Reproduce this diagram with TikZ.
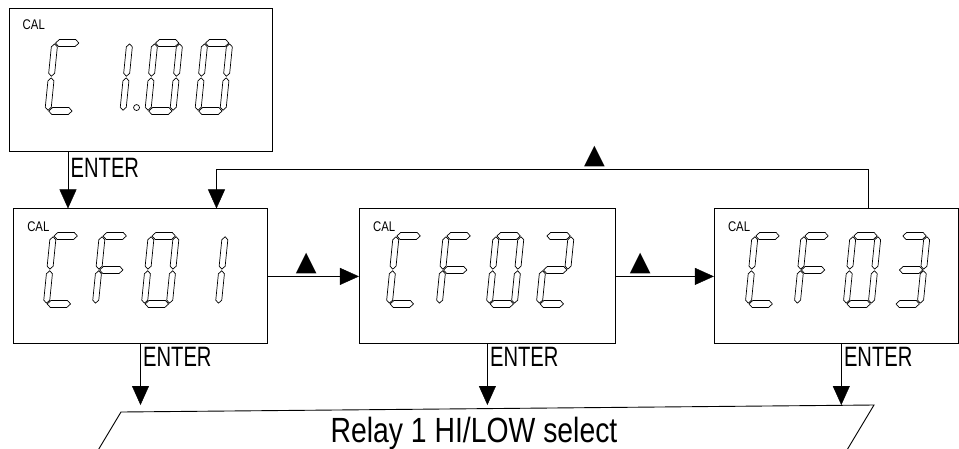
\documentclass[tikz,border=0pt]{standalone}
\usepackage{fontspec}
\setmainfont{Liberation Sans}
\newfontfamily\enterfont[FakeStretch=0.72]{Liberation Sans}
\newfontfamily\relayfont[FakeStretch=0.81]{Liberation Sans}
\newfontfamily\symfont{DejaVu Sans}
\usetikzlibrary{arrows.meta,positioning,calc}

% segments of one digit (31 x 75, origin at bottom left)
\newcommand{\lcdsega}{(3.8,71.5) -- (7.3,75) -- (23.7,75) -- (27.2,71.5) -- (23.7,68) -- (7.3,68) -- cycle}
\newcommand{\lcdsegg}{(3.8,37.5) -- (7.3,41) -- (23.7,41) -- (27.2,37.5) -- (23.7,34) -- (7.3,34) -- cycle}
\newcommand{\lcdsegd}{(3.8,3.5) -- (7.3,7) -- (23.7,7) -- (27.2,3.5) -- (23.7,0) -- (7.3,0) -- cycle}
\newcommand{\lcdsegf}{(3,38.3) -- (6,41.3) -- (6,67.7) -- (3,70.7) -- (0,67.7) -- (0,41.3) -- cycle}
\newcommand{\lcdsegb}{(28,38.3) -- (31,41.3) -- (31,67.7) -- (28,70.7) -- (25,67.7) -- (25,41.3) -- cycle}
\newcommand{\lcdsege}{(3,4.3) -- (6,7.3) -- (6,33.7) -- (3,36.7) -- (0,33.7) -- (0,7.3) -- cycle}
\newcommand{\lcdsegc}{(28,4.3) -- (31,7.3) -- (31,33.7) -- (28,36.7) -- (25,33.7) -- (25,7.3) -- cycle}
\newcommand{\lcddigit}[2]{%
  \begin{scope}[shift={#1}, xslant=0.1]
    \foreach \s in #2 {\draw[segline] \csname lcdseg\s\endcsname;}
  \end{scope}}

\begin{document}
\begin{tikzpicture}[x=1pt, y=1pt,
    >={Triangle[width=17pt,length=19pt]},
    lcdbox/.style = {rectangle, draw, line width=0.9pt, minimum height=135pt, inner sep=0pt},
    segline/.style = {line width=0.7pt, line join=round},
    callabel/.style = {anchor=north west, inner sep=0pt, font=\relayfont\fontsize{14}{14}\selectfont},
    enterlabel/.style = {anchor=north west, inner sep=2.5pt, font=\enterfont\fontsize{28}{28}\selectfont},
    upkey/.style = {inner sep=0.5pt, font=\symfont\fontsize{27}{27}\selectfont},
    ]
        \useasboundingbox (0,0) rectangle (959,-448);

        % Nodes
        \node[lcdbox, minimum width=263pt, minimum height=143pt] (top) at (140.5,-79.5) {};
        \node[lcdbox, minimum width=254pt, below=57pt of top] (cf1) {};
        \node[lcdbox, minimum width=256pt, right=91pt of cf1] (cf2) {};
        \node[lcdbox, minimum width=244pt, right=98pt of cf2] (cf3) {};
        %
        \node[callabel] at ([shift={(14pt,-12pt)}]top.north west) {CAL};
        \node[callabel] at ([shift={(14pt,-13pt)}]cf1.north west) {CAL};
        \node[callabel] at ([shift={(14pt,-13pt)}]cf2.north west) {CAL};
        \node[callabel] at ([shift={(14pt,-13pt)}]cf3.north west) {CAL};
        %
        \node[font=\relayfont\fontsize{35}{35}\selectfont, anchor=base] (relay) at (474,-442) {Relay 1 HI/LOW select};
        \coordinate (relayTL) at (121,-412);
        \coordinate (relayTR) at (874,-405);

        % Digits
        \foreach \segs [count=\i from 0] in {{a,d,e,f},{b,c},{a,b,c,d,e,f},{a,b,c,d,e,f}}
            {\lcddigit{($(top.north west)+(36+50*\i,-107)$)}{\segs}}
        \draw[segline] ([shift={(128pt,-100pt)}]top.north west) circle[radius=3pt];
        \foreach \segs [count=\i from 0] in {{a,d,e,f},{a,e,f,g},{a,b,c,d,e,f},{b,c}}
            {\lcddigit{($(cf1.north west)+(30+49*\i,-99)$)}{\segs}}
        \foreach \segs [count=\i from 0] in {{a,d,e,f},{a,e,f,g},{a,b,c,d,e,f},{a,b,d,e,g}}
            {\lcddigit{($(cf2.north west)+(27+50*\i,-99)$)}{\segs}}
        \foreach \segs [count=\i from 0] in {{a,d,e,f},{a,e,f,g},{a,b,c,d,e,f},{a,b,c,d,g}}
            {\lcddigit{($(cf3.north west)+(31+49*\i,-99)$)}{\segs}}

        % Draw
        \draw[line width=0.9pt] ($(relayTL)+(-36,-60)$) -- (relayTL) -- (relayTR) -- ++(-36,-60);
        \draw[->] ([xshift=-72.5pt]top.south) -- ([xshift=-72.5pt]top.south |- cf1.north)
            node[enterlabel, at start, yshift=-4pt] {ENTER};
        \draw[->] (cf1) -- node[upkey, pos=0.42, above=2pt] {▲} (cf2);
        \draw[->] (cf2) -- node[upkey, pos=0.25, above=2pt] {▲} (cf3);
        \draw[->] ([xshift=32pt]cf3.north) -- ++(0,39)
            -| node[upkey, pos=0.21, above=2pt] {▲} ([xshift=76pt]cf1.north);
        \draw[->] (cf1.south) -- (cf1.south |- relayTR) node[enterlabel, at start] {ENTER};
        \draw[->] (cf2.south) -- (cf2.south |- relayTR) node[enterlabel, at start] {ENTER};
        \draw[->] ([xshift=5pt]cf3.south) -- ([xshift=5pt]cf3.south |- relayTR) node[enterlabel, at start] {ENTER};
    \end{tikzpicture}
\end{document}
